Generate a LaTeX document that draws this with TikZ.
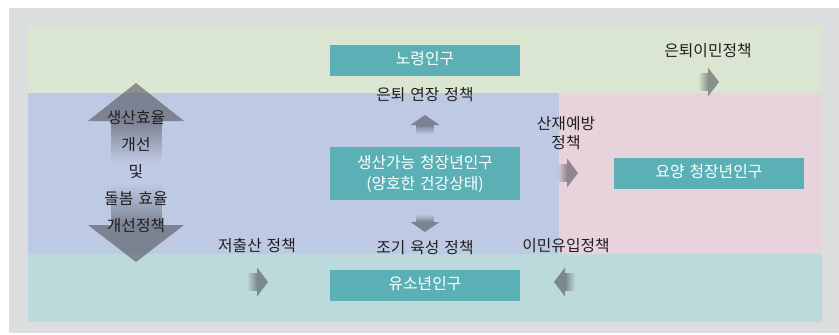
\documentclass[tikz,border=0pt]{standalone}
\usepackage{fontspec}
\setmainfont[WordSpace=1.4]{Noto Sans CJK KR}
\usetikzlibrary{fadings}
\definecolor{bggray}{HTML}{DCDDDF}
\definecolor{bandgreen}{HTML}{DAE6D1}
\definecolor{bandblue}{HTML}{BEC9E3}
\definecolor{bandpink}{HTML}{E8D3DC}
\definecolor{bandteal}{HTML}{BCD9DC}
\definecolor{boxteal}{HTML}{5BB0B6}
\definecolor{arrowc}{RGB}{58,60,66}
\definecolor{txt}{HTML}{231F20}
\tikzfading[name=fadeE, left color=transparent!100, right color=transparent!0]
\tikzfading[name=fadeW, left color=transparent!0, right color=transparent!100]
\tikzfading[name=fadeN, bottom color=transparent!100, top color=transparent!0]
\tikzfading[name=fadeS, top color=transparent!100, bottom color=transparent!0]
\tikzset{
  lbl/.style={text=txt, font=\fontsize{15.8}{19}\selectfont, inner sep=0pt, align=center, text height=0.75em, text depth=0pt},
  lblm/.style={text=txt, font=\fontsize{15.8}{19}\selectfont, inner sep=0pt, align=center},
  popbox/.style={fill=boxteal, text=white, font=\fontsize{15.8}{21}\selectfont, inner sep=0pt, align=center, minimum width=190pt, minimum height=31pt},
  onebox/.style={popbox, text height=0.75em, text depth=0pt},
  arrfill/.style={fill=arrowc, fill opacity=0.5},
  arrR/.pic={
    \fill[arrfill, path fading=fadeE] (-10,-9) rectangle (0,9);
    \fill[arrfill] (0,-14.5) -- (11,0) -- (0,14.5) -- cycle;
  },
  arrL/.pic={
    \fill[arrfill, path fading=fadeW] (0,-9) rectangle (10,9);
    \fill[arrfill] (0,-14.5) -- (-11,0) -- (0,14.5) -- cycle;
  },
  arrU/.pic={
    \fill[arrfill, path fading=fadeN] (-9,0) rectangle (9,9);
    \fill[arrfill] (-14.5,0) -- (0,-10) -- (14.5,0) -- cycle;
  },
  arrD/.pic={
    \fill[arrfill, path fading=fadeS] (-9,-8) rectangle (9,0);
    \fill[arrfill] (-14.5,0) -- (0,10) -- (14.5,0) -- cycle;
  }
}
\begin{document}
\begin{tikzpicture}[x=1pt,y=-1pt]
\useasboundingbox (0,0) rectangle (839,335);
% backgrounds
\fill[bggray] (9,8) rectangle (839,333);
\fill[bandgreen] (28,26) rectangle (822,93);
\fill[bandblue] (28,93) rectangle (559,254);
\fill[bandpink] (559,93) rectangle (822,254);
\fill[bandteal] (28,254) rectangle (822,322);
% big double arrow
\fill[arrfill] (88,121) -- (136,83) -- (184,121) -- cycle;
\fill[arrfill] (88,225) -- (136,262) -- (184,225) -- cycle;
\fill[arrfill, path fading=fadeN] (111,121) rectangle (162,162);
\fill[arrfill, path fading=fadeS] (111,184) rectangle (162,225);
\node[lblm, font=\fontsize{15.8}{27}\selectfont] (eff) at (136,171.5) {생산효율\\개선\\및\\돌봄 효율\\개선정책};
% boxes
\node[onebox] (old) at (425,60.5) {노령인구};
\node[popbox, minimum height=53pt] (work) at (425,173.5) {생산가능 청장년인구\\(양호한 건강상태)};
\node[onebox] (young) at (425,285.5) {유소년인구};
\node[onebox] (care) at (709,173.5) {요양 청장년인구};
% labels
\node[lbl] (retmig) at (708,53) {은퇴이민정책};
\node[lbl] (retext) at (425,97) {은퇴 연장 정책};
\node[lblm] (injury) at (566,133.5) {산재예방\\정책};
\node[lbl] (immig) at (566,248) {이민유입정책};
\node[lbl] (lowbirth) at (257,248) {저출산 정책};
\node[lbl] (early) at (425,250) {조기 육성 정책};
% small arrows
\pic at (708,82) {arrR};
\pic at (567,173) {arrR};
\pic at (257,282) {arrR};
\pic at (565,282) {arrL};
\pic at (425,125) {arrU};
\pic at (425,222) {arrD};
\end{tikzpicture}
\end{document}
